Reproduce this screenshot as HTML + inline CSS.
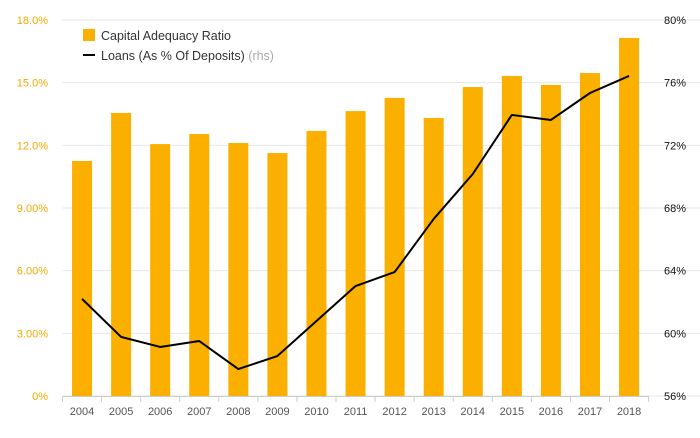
<!DOCTYPE html>
<html><head><meta charset="utf-8">
<style>
body{margin:0;background:#fff;font-family:"Liberation Sans",sans-serif;}
svg text{font-family:"Liberation Sans",sans-serif;}
</style></head>
<body>
<svg id="chart" width="700" height="433" xmlns="http://www.w3.org/2000/svg">
<g id="grid"></g>
<g id="bars"></g>
<g id="line"></g>
<g id="axes"></g>
<g>
  <rect x="83" y="29" width="12" height="12" fill="#FBB000"/>
  <text x="101" y="40" font-size="12.5" fill="#333">Capital Adequacy Ratio</text>
  <line x1="83" y1="55" x2="95" y2="55" stroke="#000" stroke-width="2"/>
  <text x="101" y="60" font-size="12.5" fill="#333">Loans (As % Of Deposits) <tspan fill="#aaa">(rhs)</tspan></text>
</g>
</svg>
<script>
const categories=["2004","2005","2006","2007","2008","2009","2010","2011","2012","2013","2014","2015","2016","2017","2018"];
const carValues=[11.25,13.55,12.06,12.54,12.11,11.63,12.69,13.64,14.27,13.31,14.79,15.32,14.89,15.46,17.14];
const loanValues=[62.2,59.77,59.13,59.51,57.72,58.55,60.79,63.02,63.91,67.3,70.17,73.94,73.62,75.34,76.43];
const leftTicks=[0,3,6,9,12,15,18];
const leftTickLabels=["0%","3.00%","6.00%","9.00%","12.0%","15.0%","18.0%"];
const rightTicks=[56,60,64,68,72,76,80];
const rightTickLabels=["56%","60%","64%","68%","72%","76%","80%"];

const NS="http://www.w3.org/2000/svg";
const X0=62.5,X1=648.6,Y0=396,Y1=20;
const band=(X1-X0)/categories.length;
const xc=i=>X0+band*(i+0.5);
const yL=v=>Y0-(v-0)/(18-0)*(Y0-Y1);
const yR=v=>Y0-(v-56)/(80-56)*(Y0-Y1);
function mk(t,a,p){const e=document.createElementNS(NS,t);for(const k in a)e.setAttribute(k,a[k]);p.appendChild(e);return e;}
const grid=document.getElementById('grid'),bars=document.getElementById('bars'),line=document.getElementById('line'),axes=document.getElementById('axes');
leftTicks.forEach((v,i)=>{
  const g=mk('line',{x1:X0,x2:700,y1:yL(v),y2:yL(v),stroke:'#e6e6e6','stroke-width':1},grid);
  
  
  const t=mk('text',{x:48,y:yL(v)+4,'text-anchor':'end','font-size':11,fill:'#F5A800'},axes);
  t.textContent=leftTickLabels[i];
  
  
});
rightTicks.forEach((v,i)=>{
  const t=mk('text',{x:664,y:yR(v)+4,'font-size':11,fill:'#111'},axes);
  t.textContent=rightTickLabels[i];
  
  
});
const bw=20;
carValues.forEach((v,i)=>{
  const r=mk('rect',{x:xc(i)-bw/2,y:yL(v),width:bw,height:Y0-yL(v),fill:'#FBB000'},bars);
  
  
});
const bl=mk('line',{x1:X0,x2:X1,y1:Y0+0.5,y2:Y0+0.5,stroke:'#ccc'},axes);


categories.forEach((c,i)=>{
  const tk=mk('line',{x1:X0+band*i,x2:X0+band*i,y1:Y0,y2:Y0+6,stroke:'#ccc'},axes);
  
  
  const t=mk('text',{x:xc(i),y:Y0+19,'text-anchor':'middle','font-size':11,fill:'#555'},axes);
  t.textContent=c;
  
  
});
const tkEnd=mk('line',{x1:X1,x2:X1,y1:Y0,y2:Y0+6,stroke:'#ccc'},axes);


const pts=loanValues.map((v,i)=>xc(i)+','+yR(v)).join(' ');
const pl=mk('polyline',{points:pts,fill:'none',stroke:'#000','stroke-width':2,'stroke-linejoin':'round'},line);


</script>
</body></html>
